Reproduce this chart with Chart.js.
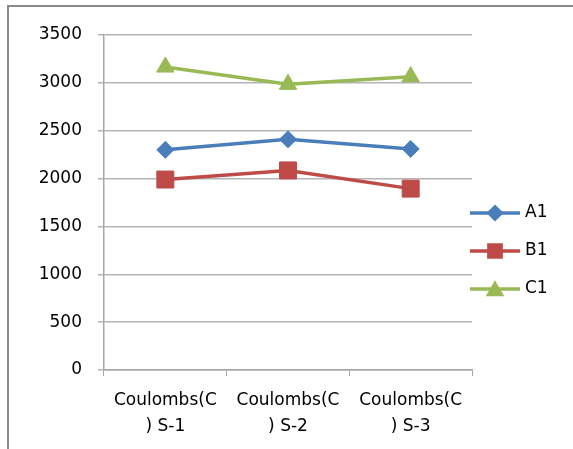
<!DOCTYPE html>
<html>
<head>
<meta charset="utf-8">
<script src="https://cdn.jsdelivr.net/npm/chart.js@4.4.0/dist/chart.umd.min.js"></script>
<style>
    html, body { margin: 0; padding: 0; background: #fff; }
    #wrap { position: relative; width: 573px; height: 449px; }
    #frame {
        position: absolute; left: 7px; top: 5px; right: 0; bottom: 0;
        border-top: 2px solid #8a8a8a; border-left: 2px solid #8a8a8a;
        pointer-events: none;
    }
</style>
</head>
<body>
<div id="wrap">
    <canvas id="myChart" width="573" height="449"></canvas>
    <div id="frame"></div>
</div>
<script>
// du lieu doc tu hinh
var categories = [['Coulombs(C', ') S-1'], ['Coulombs(C', ') S-2'], ['Coulombs(C', ') S-3']];
var seriesNames = ['A1', 'B1', 'C1'];
var a1Values = [2300, 2410, 2310];
var b1Values = [1990, 2085, 1895];
var c1Values = [3165, 2985, 3065];
var yTicks = [0, 500, 1000, 1500, 2000, 2500, 3000, 3500];

var fontFamily = '"DejaVu Sans", sans-serif';
var fontSize = 17;

// chu thich ben phai: duong + ky hieu
var sideLegend = {
    id: 'sideLegend',
    afterDraw: function(chart) {
        var ctx = chart.ctx;
        var x0 = chart.chartArea.right - 2;
        chart.data.datasets.forEach(function(ds, i) {
            var y = 213 + i * 38;
            ctx.save();
            ctx.strokeStyle = ds.borderColor;
            ctx.lineWidth = ds.borderWidth;
            ctx.beginPath();
            ctx.moveTo(x0, y);
            ctx.lineTo(x0 + 50, y);
            ctx.stroke();
            ctx.fillStyle = ds.backgroundColor;
            ctx.strokeStyle = ds.backgroundColor;
            Chart.helpers.drawPoint(ctx, {
                pointStyle: ds.pointStyle,
                radius: ds.pointRadius * 0.72,
                rotation: 0,
                borderWidth: 1
            }, x0 + 25, y + (ds.pointStyle === 'triangle' ? 2 : 0));
            ctx.fillStyle = '#000';
            ctx.font = fontSize + 'px ' + fontFamily;
            ctx.textBaseline = 'middle';
            ctx.textAlign = 'left';
            ctx.fillText(ds.label, x0 + 55, y);
            ctx.restore();
        });
    }
};

var ctx = document.getElementById('myChart').getContext('2d');
var myChart = new Chart(ctx, {
    type: 'line',
    data: {
        labels: categories,
        datasets: [{
            label: seriesNames[0],
            data: a1Values,
            borderColor: '#4a7ebb',
            backgroundColor: '#4a7ebb',
            borderWidth: 3.5,
            pointStyle: 'rectRot',
            pointRadius: 8.5,
            pointBorderWidth: 1
        }, {
            label: seriesNames[1],
            data: b1Values,
            borderColor: '#be4b48',
            backgroundColor: '#be4b48',
            borderWidth: 3.5,
            pointStyle: 'rect',
            pointRadius: 12,
            pointBorderWidth: 1
        }, {
            label: seriesNames[2],
            data: c1Values,
            borderColor: '#98b954',
            backgroundColor: '#98b954',
            borderWidth: 3.5,
            pointStyle: 'triangle',
            pointRadius: 10,
            pointBorderWidth: 1
        }]
    },
    options: {
        responsive: false,
        animation: false,
        layout: {
            padding: { left: 0, top: 35, right: 101, bottom: 0 }
        },
        plugins: {
            legend: { display: false },
            tooltip: { enabled: false }
        },
        scales: {
            x: {
                offset: true,
                grid: {
                    offset: true,
                    drawOnChartArea: false,
                    drawTicks: true,
                    tickLength: 6,
                    color: '#a6a6a6'
                },
                border: { color: '#a6a6a6', width: 1.5 },
                ticks: {
                    color: '#000',
                    maxRotation: 0,
                    autoSkip: false,
                    padding: 11,
                    font: { family: fontFamily, size: fontSize, lineHeight: 1.55 }
                },
                afterFit: function(scale) { scale.height = 79; }
            },
            y: {
                min: yTicks[0],
                max: yTicks[yTicks.length - 1],
                afterBuildTicks: function(scale) {
                    scale.ticks = yTicks.map(function(v) { return { value: v }; });
                },
                grid: {
                    color: '#b4b4b4',
                    lineWidth: 1.5,
                    drawTicks: true,
                    tickLength: 6
                },
                border: { color: '#a6a6a6', width: 1.5 },
                ticks: {
                    color: '#000',
                    padding: 16,
                    font: { family: fontFamily, size: fontSize },
                    callback: function(value) { return String(value); }
                },
                afterFit: function(scale) { scale.width = 104; }
            }
        }
    },
    plugins: [sideLegend]
});
</script>
</body>
</html>
